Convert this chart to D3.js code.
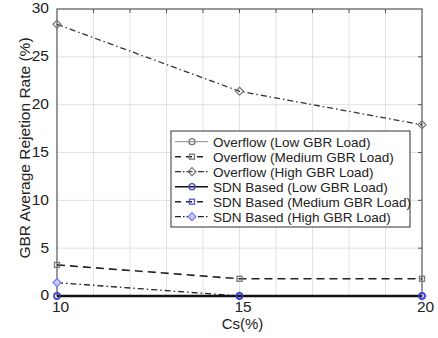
<!DOCTYPE html>
<html>
<head>
<meta charset="utf-8">
<script src="https://cdn.jsdelivr.net/npm/d3@7"></script>
<style>
  body { margin: 0; background: #fff; }
  text { font-family: "Liberation Sans", Arial, sans-serif; fill: #222; }
</style>
</head>
<body>
<div id="chart"></div>
<script>
const xValues = [10, 15, 20];
const xTicks = [10, 15, 20];
const yTicks = [0, 5, 10, 15, 20, 25, 30];
const seriesNames = [
  "Overflow (Low GBR Load)",
  "Overflow (Medium GBR Load)",
  "Overflow (High GBR Load)",
  "SDN Based (Low GBR Load)",
  "SDN Based (Medium GBR Load)",
  "SDN Based (High GBR Load)"
];
const overflowLow = [0, 0, 0];
const overflowMedium = [3.25, 1.8, 1.8];
const overflowHigh = [28.4, 21.4, 17.9];
const sdnLow = [0, 0, 0];
const sdnMedium = [0, 0, 0];
const sdnHigh = [1.4, 0, 0];

const w = 438, h = 338;
const padLeft = 57, padRight = 422, padTop = 9, padBottom = 296;

const svg = d3.select("#chart").append("svg").attr("width", w).attr("height", h);

const xScale = d3.scaleLinear().domain([10, 20]).range([padLeft, padRight]);
const yScale = d3.scaleLinear().domain([0, 30]).range([padBottom, padTop]);

// grid
svg.append("g").selectAll("line").data(d3.range(11, 20))
  .enter().append("line")
  .attr("x1", d => xScale(d)).attr("x2", d => xScale(d))
  .attr("y1", padTop).attr("y2", padBottom)
  .attr("stroke", "#e2e2e2").attr("stroke-width", 1);
svg.append("g").selectAll("line").data(yTicks.slice(1, -1))
  .enter().append("line")
  .attr("x1", padLeft).attr("x2", padRight)
  .attr("y1", d => yScale(d)).attr("y2", d => yScale(d))
  .attr("stroke", "#e2e2e2").attr("stroke-width", 1);

// inward ticks on top and right
svg.append("g").selectAll("line").data(d3.range(11, 20))
  .enter().append("line")
  .attr("x1", d => xScale(d)).attr("x2", d => xScale(d))
  .attr("y1", padTop).attr("y2", padTop + 4)
  .attr("stroke", "#555");
svg.append("g").selectAll("line").data(yTicks.slice(1, -1))
  .enter().append("line")
  .attr("x1", padRight - 4).attr("x2", padRight)
  .attr("y1", d => yScale(d)).attr("y2", d => yScale(d))
  .attr("stroke", "#555");

// frame
svg.append("rect")
  .attr("x", padLeft).attr("y", padTop)
  .attr("width", padRight - padLeft).attr("height", padBottom - padTop)
  .attr("fill", "none").attr("stroke", "#555").attr("stroke-width", 1.2);

// axes labels
const xAxis = d3.axisBottom(xScale).tickValues(xTicks).tickSize(0).tickPadding(5);
const gx = svg.append("g").attr("transform", "translate(3," + padBottom + ")").call(xAxis);
gx.select(".domain").remove();
gx.selectAll("text").style("font-size", "15.5px").attr("fill", "#222");

const yAxis = d3.axisLeft(yScale).tickValues(yTicks).tickSize(0).tickPadding(8);
const gy = svg.append("g").attr("transform", "translate(" + padLeft + ",-1)").call(yAxis);
gy.select(".domain").remove();
gy.selectAll("text").style("font-size", "15.5px").attr("fill", "#222");

svg.append("text")
  .attr("x", (padLeft + padRight) / 2 + 3).attr("y", 329)
  .attr("text-anchor", "middle").style("font-size", "15px")
  .text("Cs(%)");

svg.append("text")
  .attr("transform", "translate(30,148) rotate(-90)")
  .attr("text-anchor", "middle").style("font-size", "15.5px")
  .text("GBR Average Rejetion Rate (%)");

const series = [
  { values: overflowHigh, color: "#333", width: 1.3, dash: "6,3,1.5,3", marker: "diamond", mcolor: "#777" },
  { values: overflowMedium, color: "#222", width: 1.6, dash: "8,5", marker: "square", mcolor: "#777" },
  { values: overflowLow, color: "#888", width: 1, dash: null, marker: "circle", mcolor: "#777" },
  { values: sdnHigh, color: "#222", width: 1.3, dash: "6,3,1.5,3", marker: "diamond", mcolor: "#7777ee" },
  { values: sdnMedium, color: "#222", width: 1.5, dash: "8,5", marker: "square", mcolor: "#5555dd" },
  { values: sdnLow, color: "#111", width: 2.5, dash: null, marker: "circle", mcolor: "#4444cc" }
];
const legendOrder = [2, 1, 0, 5, 4, 3];

const line = d3.line().x((d, i) => xScale(xValues[i])).y(d => yScale(d));

function drawMarker(g, type, x, y, color) {
  if (type === "circle") {
    g.append("circle").attr("cx", x).attr("cy", y).attr("r", 3)
      .attr("fill", "none").attr("stroke", color).attr("stroke-width", 1.3);
  } else if (type === "square") {
    g.append("rect").attr("x", x - 2.5).attr("y", y - 2.5).attr("width", 5).attr("height", 5)
      .attr("fill", "none").attr("stroke", color).attr("stroke-width", 1.3);
  } else {
    g.append("path").attr("d", `M${x},${y - 4}L${x + 4},${y}L${x},${y + 4}L${x - 4},${y}Z`)
      .attr("fill", color === "#777" ? "none" : "#c8c8ff").attr("stroke", color).attr("stroke-width", 1.2);
  }
}

series.forEach(s => {
  svg.append("path").datum(s.values)
    .attr("d", line).attr("fill", "none")
    .attr("stroke", s.color).attr("stroke-width", s.width)
    .attr("stroke-dasharray", s.dash);
  const mg = svg.append("g");
  s.values.forEach((v, i) => drawMarker(mg, s.marker, xScale(xValues[i]), yScale(v), s.mcolor));
});

// legend
const lx = 171, ly = 131, lw = 239, lh = 96;
const legend = svg.append("g").attr("id", "legend");
legend.append("rect").attr("x", lx).attr("y", ly).attr("width", lw).attr("height", lh)
  .attr("fill", "#fff").attr("stroke", "#333").attr("stroke-width", 1);
seriesNames.forEach((name, i) => {
  const s = series[legendOrder[i]];
  const yy = ly + 10.7 + i * 15;
  legend.append("line").attr("x1", lx + 4).attr("x2", lx + 37).attr("y1", yy).attr("y2", yy)
    .attr("stroke", s.color).attr("stroke-width", Math.min(s.width, 1.6))
    .attr("stroke-dasharray", s.dash ? (s.dash === "8,5" ? "6,5" : "6,2,1.5,2") : null);
  drawMarker(legend, s.marker, lx + 21, yy, s.mcolor);
  legend.append("text").attr("x", lx + 42).attr("y", yy + 4.8)
    .style("font-size", "13.5px").text(name);
});
</script>
</body>
</html>
